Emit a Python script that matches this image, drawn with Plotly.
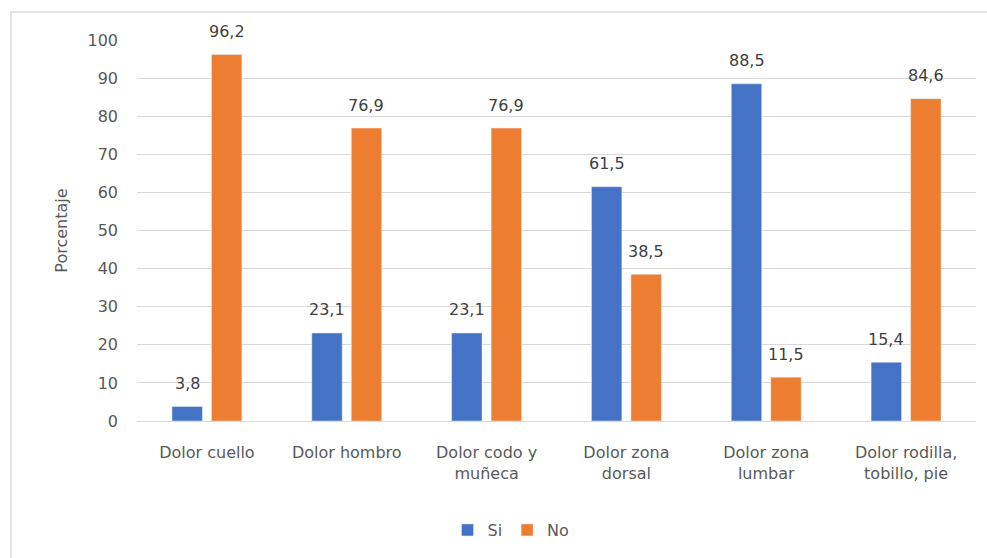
import plotly.graph_objects as go

categories = ["Dolor cuello", "Dolor hombro", "Dolor codo y<br>muñeca", "Dolor zona<br>dorsal",
              "Dolor zona<br>lumbar", "Dolor rodilla,<br>tobillo, pie"]
si_values = [3.8, 23.1, 23.1, 61.5, 88.5, 15.4]
no_values = [96.2, 76.9, 76.9, 38.5, 11.5, 84.6]
y_ticks = [0, 10, 20, 30, 40, 50, 60, 70, 80, 90, 100]

FONT = "DejaVu Sans"
SIZE = 16
GRAY = "#595959"
LABEL = "#404040"

L, R, T, B = 137, 976, 40, 421
W, H = 987, 558
pw, ph = R - L, B - T

def px(x):
    return (x - L) / pw

def py(y):
    return (B - y) / ph

fig = go.Figure()
fig.add_trace(go.Bar(name="Si", x=categories, y=si_values, marker_color="#4472C4"))
fig.add_trace(go.Bar(name="No", x=categories, y=no_values, marker_color="#ED7D31"))

annotations = []
for vals, shift in ((si_values, -19.6), (no_values, 19.6)):
    for c, v in zip(categories, vals):
        annotations.append(dict(x=c, y=v, xref="x", yref="y", text=f"{v:.1f}".replace(".", ","),
                                showarrow=False, xshift=shift, yshift=23, yanchor="middle",
                                font=dict(family=FONT, size=SIZE, color=LABEL)))

fig.update_layout(
    width=W, height=H,
    margin=dict(l=L, r=W - R, t=T, b=H - B),
    paper_bgcolor="white", plot_bgcolor="white",
    separators=",.",
    barmode="group", bargap=0.435, bargroupgap=0.23,
    font=dict(family=FONT, size=SIZE, color=GRAY),
    showlegend=True,
    legend=dict(orientation="h", x=px(511), xanchor="center", y=py(530), yanchor="middle",
                font=dict(family=FONT, size=SIZE, color=GRAY), itemwidth=30, traceorder="normal"),
    annotations=annotations,
    shapes=[dict(type="rect", xref="paper", yref="paper",
                 x0=px(11), x1=px(1000), y0=py(575), y1=py(12),
                 line=dict(color="#D9D9D9", width=1.5), fillcolor="rgba(0,0,0,0)", layer="below")],
)
fig.update_yaxes(range=[0, 100], tickvals=y_ticks, showgrid=True, gridcolor="#D9D9D9", gridwidth=1,
                 zeroline=False, showline=False, ticks="", ticklabelstandoff=18,
                 tickfont=dict(family=FONT, size=SIZE, color=GRAY),
                 title=dict(text="Porcentaje", standoff=15, font=dict(family=FONT, size=SIZE, color=GRAY)))
fig.update_xaxes(showline=True, linecolor="#D9D9D9", linewidth=1, ticks="", showgrid=False,
                 ticklabelstandoff=17, tickfont=dict(family=FONT, size=SIZE, color=GRAY), tickangle=0)

fig.write_html("out.html")
